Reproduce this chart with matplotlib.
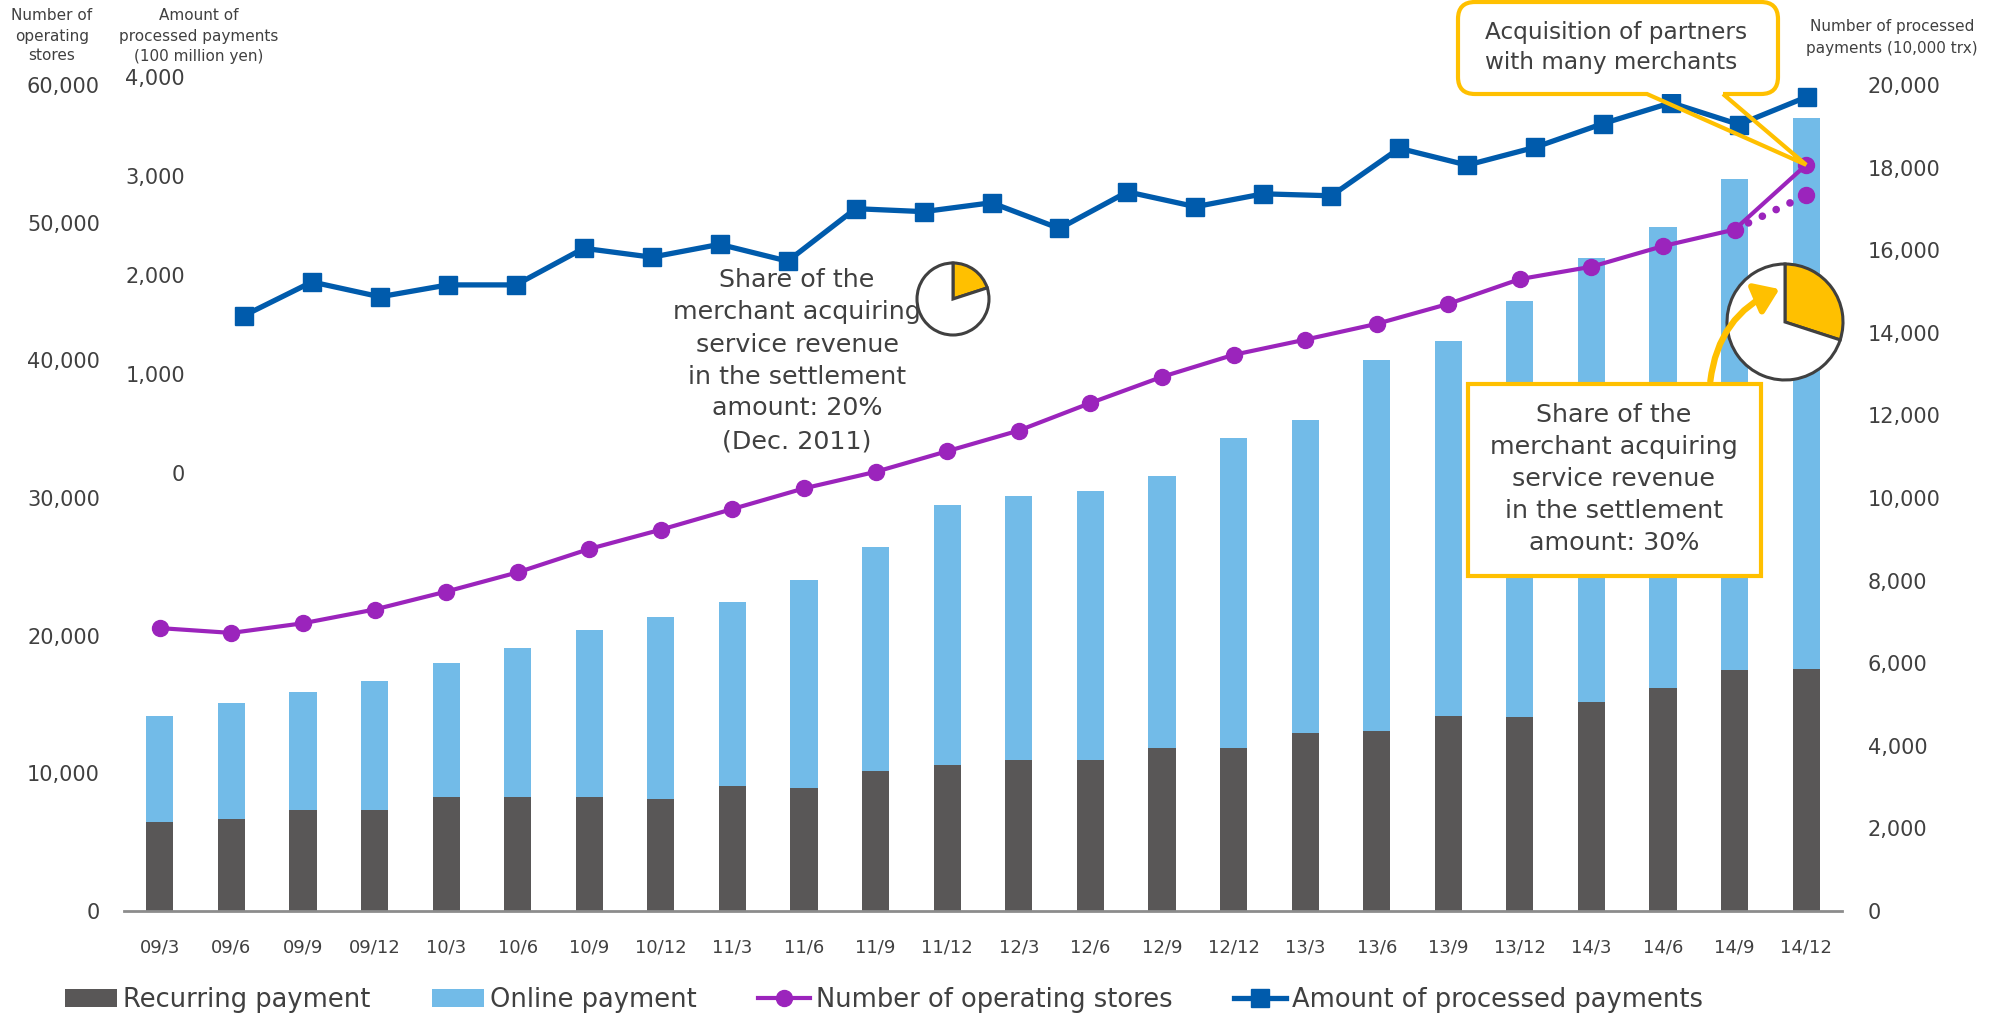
import numpy as np
import matplotlib
matplotlib.use("Agg")
import matplotlib.pyplot as plt
from matplotlib.patches import Patch, PathPatch, Rectangle, FancyArrowPatch
from matplotlib.lines import Line2D
from matplotlib.path import Path
from matplotlib.ticker import FuncFormatter, MultipleLocator

plt.rcParams["font.family"] = ["DejaVu Sans"]

# ---------------------------------------------------------------- data
quarters = ["09/3", "09/6", "09/9", "09/12", "10/3", "10/6", "10/9", "10/12",
            "11/3", "11/6", "11/9", "11/12", "12/3", "12/6", "12/9", "12/12",
            "13/3", "13/6", "13/9", "13/12", "14/3", "14/6", "14/9", "14/12"]

# number of processed payments (10,000 trx)
recurring = [2150, 2220, 2450, 2440, 2770, 2770, 2770, 2700, 3030, 2990, 3380, 3540,
             3650, 3660, 3940, 3940, 4320, 4360, 4720, 4690, 5060, 5390, 5840, 5870]
online = [2570, 2810, 2850, 3140, 3230, 3600, 4030, 4420, 4450, 5030, 5440, 6290,
          6400, 6520, 6600, 7520, 7570, 8990, 9090, 10090, 10750, 11160, 11890, 13340]

# number of operating stores
stores = [20550, 20200, 20900, 21900, 23200, 24600, 26300, 27700, 29200, 30700, 31900, 33400,
          34900, 36900, 38800, 40400, 41500, 42650, 44100, 45900, 46800, 48300, 49500, 54200]
stores_organic_last = 52000  # 14/12 without the partner acquisition

# amount of processed payments (100 million yen)
amount = [1590, 1930, 1780, 1900, 1900, 2270, 2180, 2310, 2140, 2670, 2640, 2730,
          2470, 2840, 2690, 2820, 2800, 3280, 3110, 3290, 3530, 3740, 3520, 3800]

share_2011 = [20, 80]   # merchant acquiring share, Dec. 2011 (%)
share_2014 = [30, 70]   # merchant acquiring share, Dec. 2014 (%)

# ---------------------------------------------------------------- style
DARK = "#595757"
LIGHT = "#72BBE8"
PURPLE = "#9B24BC"
BLUE = "#005BAC"
YELLOW = "#FFC000"
TEXT = "#404040"

W, H, DPI = 1989, 1013, 100
fig = plt.figure(figsize=(W / DPI, H / DPI), dpi=DPI)


def box(left, top, width, height):
    """Pixel box (origin top-left) -> figure-fraction rect."""
    return [left / W, 1 - (top + height) / H, width / W, height / H]


def to_fig(x, y):
    return x / W, 1 - y / H


def text_lines(x, ys, lines, **kw):
    for y, s in zip(ys, lines):
        fig.text(*to_fig(x, y), s, color=TEXT, va="center", **kw)


fmt = FuncFormatter(lambda v, _: f"{v:,.0f}")
PL, PR, PT, PB = 124, 1842, 85, 911

# ---------------------------------------------------------------- bars (right axis)
ax_bar = fig.add_axes(box(PL, PT, PR - PL, PB - PT))
ax_st = ax_bar.twinx()

x = np.arange(len(quarters))
ax_bar.bar(x, recurring, width=0.38, color=DARK, zorder=2)
ax_bar.bar(x, online, width=0.38, bottom=recurring, color=LIGHT, zorder=2)
ax_bar.set_xlim(-0.5, len(quarters) - 0.5)
ax_bar.set_ylim(0, 20000)
ax_bar.yaxis.tick_right()
ax_bar.yaxis.set_major_locator(MultipleLocator(2000))
ax_bar.yaxis.set_major_formatter(fmt)
ax_bar.set_xticks(x, quarters)
ax_bar.tick_params(axis="x", length=0, pad=20, labelsize=13, labelcolor=TEXT)
ax_bar.tick_params(axis="y", length=0, pad=18.7, labelsize=15, labelcolor=TEXT)
for s in ("top", "left", "right"):
    ax_bar.spines[s].set_visible(False)
ax_bar.spines["bottom"].set_color("#8C8C8C")
ax_bar.spines["bottom"].set_linewidth(2)

# ---------------------------------------------------------------- stores (left axis)
ax_st.set_ylim(0, 60000)
ax_st.yaxis.tick_left()
ax_st.yaxis.set_major_locator(MultipleLocator(10000))
ax_st.yaxis.set_major_formatter(fmt)
ax_st.tick_params(axis="y", length=0, pad=17.3, labelsize=15, labelcolor=TEXT)
for s in ax_st.spines.values():
    s.set_visible(False)
ax_st.plot([x[-2], x[-1]], [stores[-2], stores_organic_last], color=PURPLE, lw=5.5,
           linestyle=(0, (0.01, 2.0)), dash_capstyle="round", zorder=3)
ax_st.plot(x[-1], stores_organic_last, "o", color=PURPLE, ms=11.5, zorder=3)
ax_st.plot(x, stores, color=PURPLE, lw=3, marker="o", ms=11.5, zorder=4)

# ---------------------------------------------------------------- amount (inner left axis)
ax_amt = fig.add_axes(box(PL, 77, PR - PL, PB - 77))
ax_amt.patch.set_visible(False)
ax_amt.set_ylim(-4424, 4000)
ax_amt.set_xlim(-1.766, 23.515)
ax_amt.set_yticks(range(0, 4001, 1000))
ax_amt.yaxis.set_major_formatter(fmt)
ax_amt.set_xticks([])
ax_amt.tick_params(axis="y", length=0, pad=-43.9, labelsize=15, labelcolor=TEXT)
for s in ax_amt.spines.values():
    s.set_visible(False)
ax_amt.plot(np.arange(len(amount)), amount, color=BLUE, lw=3.8, marker="s", ms=12.5)

# ---------------------------------------------------------------- axis titles
text_lines(52, [16, 36, 56], ["Number of", "operating", "stores"], ha="center", fontsize=11)
text_lines(199, [16, 36, 56], ["Amount of", "processed payments", "(100 million yen)"],
           ha="center", fontsize=11)
text_lines(1892, [27, 48], ["Number of processed", "payments (10,000 trx)"],
           ha="center", fontsize=11)


# ---------------------------------------------------------------- share pies
def pie_at(cx, cy, d, shares):
    pad = 4
    a = fig.add_axes(box(cx - d / 2 - pad, cy - d / 2 - pad, d + 2 * pad, d + 2 * pad))
    a.pie(shares, colors=[YELLOW, "white"], startangle=90, counterclock=False, radius=1,
          wedgeprops=dict(edgecolor="#404040", linewidth=2.2))
    lim = 1 + 2 * pad / d
    a.set_xlim(-lim, lim)
    a.set_ylim(-lim, lim)
    a.set_aspect("equal")
    a.axis("off")


pie_at(953, 299, 72, share_2011)
pie_at(1785, 322, 116, share_2014)

text_lines(797, [280, 312, 345, 377, 408, 441],
           ["Share of the", "merchant acquiring", "service revenue", "in the settlement",
            f"amount: {share_2011[0]}%", "(Dec. 2011)"], ha="center", fontsize=18.3)

# boxed note for 2014
fig.add_artist(Rectangle(to_fig(1468, 576), 293 / W, 192 / H, transform=fig.transFigure,
                         facecolor="white", edgecolor=YELLOW, linewidth=3, zorder=5))
text_lines(1614, [415, 447, 479, 511, 543],
           ["Share of the", "merchant acquiring", "service revenue", "in the settlement",
            f"amount: {share_2014[0]}%"], ha="center", fontsize=18.3, zorder=6)
fig.add_artist(FancyArrowPatch(to_fig(1710, 384), to_fig(1782, 288), transform=fig.transFigure,
                               connectionstyle="arc3,rad=-0.3",
                               arrowstyle="-|>,head_length=1.0,head_width=0.7",
                               mutation_scale=14, color=YELLOW, linewidth=4.5, zorder=6))

# ---------------------------------------------------------------- callout
fig.canvas.draw()
tip_disp = ax_st.transData.transform((x[-1], stores[-1]))
tip = (tip_disp[0], H - tip_disp[1])
L, R, T, B, r = 1458, 1778, 2, 94, 17
b1, b2 = 1647, 1723


def callout_path(body_only):
    v = [(b2, B), (R - r, B), (R, B), (R, B - r), (R, T + r), (R, T), (R - r, T),
         (L + r, T), (L, T), (L, T + r), (L, B - r), (L, B), (L + r, B), (b1, B)]
    c = [Path.MOVETO, Path.LINETO, Path.CURVE3, Path.CURVE3, Path.LINETO, Path.CURVE3,
         Path.CURVE3, Path.LINETO, Path.CURVE3, Path.CURVE3, Path.LINETO, Path.CURVE3,
         Path.CURVE3, Path.LINETO]
    if body_only:
        v += [(b2, B)]
        c += [Path.CLOSEPOLY]
    else:
        v += [tip, (b2, B)]
        c += [Path.LINETO, Path.LINETO]
    return Path([to_fig(px, py) for px, py in v], c)


fig.add_artist(PathPatch(callout_path(True), transform=fig.transFigure, facecolor="white",
                         edgecolor="none", zorder=5))
fig.add_artist(PathPatch(callout_path(False), transform=fig.transFigure, facecolor="none",
                         edgecolor=YELLOW, linewidth=3, joinstyle="miter", zorder=6))
text_lines(1485, [32, 63], ["Acquisition of partners", "with many merchants"],
           ha="left", fontsize=16.7, zorder=7)

# ---------------------------------------------------------------- legend
handles = [Patch(facecolor=DARK), Patch(facecolor=LIGHT),
           Line2D([], [], color=PURPLE, lw=3, marker="o", ms=11.5),
           Line2D([], [], color=BLUE, lw=3.8, marker="s", ms=12.5)]
labels = ["Recurring payment", "Online payment", "Number of operating stores",
          "Amount of processed payments"]
fig.legend(handles, labels, loc="center left", bbox_to_anchor=to_fig(65, 1000), ncol=4,
           frameon=False, fontsize=18.55, handlelength=2.02, handleheight=0.7,
           handletextpad=0.23, columnspacing=2.38, borderpad=0, borderaxespad=0,
           labelcolor=TEXT)

fig.savefig("out.png", dpi=DPI)
